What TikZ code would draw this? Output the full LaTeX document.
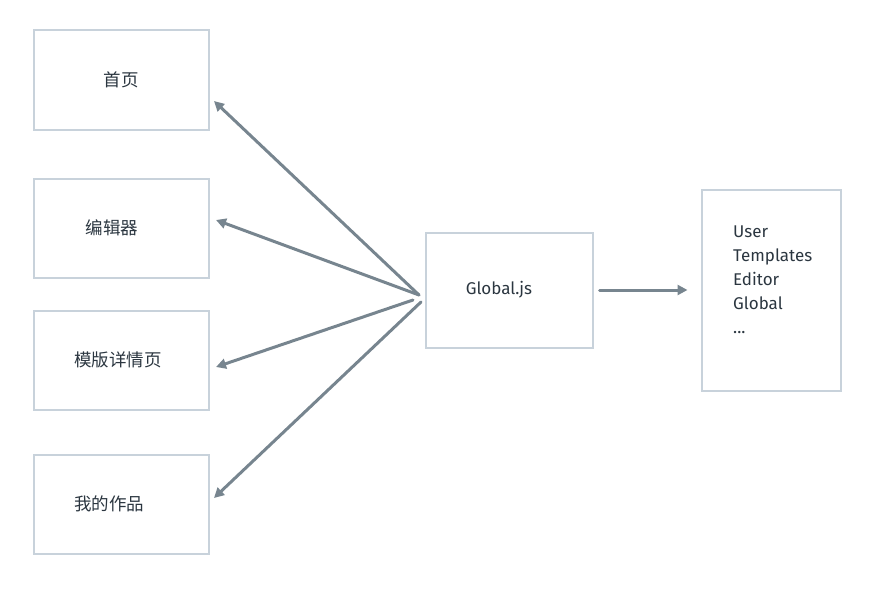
\documentclass[tikz,border=0pt]{standalone}
\usepackage{fontspec}
\setmainfont{Fira Sans}
\newfontfamily\cjk{Noto Sans CJK SC}
\usetikzlibrary{arrows.meta, positioning}
\definecolor{boxline}{HTML}{C8D2DB}
\definecolor{arrowgrey}{HTML}{77858F}
\definecolor{labeltext}{HTML}{2B3640}

\begin{document}
\begin{tikzpicture}[x=1pt, y=-1pt,
    page/.style={draw=boxline, line width=2pt, minimum width=175pt, minimum height=99pt, text=labeltext, font=\cjk\fontsize{17.5}{20}\selectfont},
    link/.style={draw=arrowgrey, line width=3pt, line cap=round, -{Triangle[length=10pt, width=10pt]}}]
    \useasboundingbox (0,0) rectangle (892,602);

    % pages on the left
    \node[page] (home) at (121, 80) {首页};
    \node[page] (editor) at (121, 228) {\hspace*{-18pt}编辑器};
    \node[page] (detail) at (121, 360) {\hspace*{-6pt}模版详情页};
    \node[page] (works) at (121, 504) {\hspace*{-24pt}我的作品};

    % shared module and its stores
    \node[page, minimum width=167pt, minimum height=115pt, font=\fontsize{17}{20}\selectfont] (global) at (509, 290) {\hspace*{-20pt}Global.js};
    \node[page, minimum width=139pt, minimum height=201pt] (stores) at (771, 290) {};
    \node[anchor=north west, align=left, inner sep=0pt, text=labeltext, font=\fontsize{17}{24}\selectfont] (storelist) at (733, 226) {User\\Templates\\Editor\\Global\\...};

    \coordinate (hub) at (419, 295);
    \coordinate (hubl) at (413, 300);
    \coordinate (hubr) at (421, 302);
    \coordinate (tohome) at (214, 101);
    \coordinate (toeditor) at (216, 220);
    \coordinate (todetail) at (216, 367);
    \coordinate (toworks) at (214, 498);

    \draw[link] (hub) -- (tohome);
    \draw[link] (hub) -- (toeditor);
    \draw[link] (hubl) -- (todetail);
    \draw[link] (hubr) -- (toworks);
    \draw[link, shorten <=6pt, shorten >=13pt] (global) -- (stores);
\end{tikzpicture}
\end{document}
